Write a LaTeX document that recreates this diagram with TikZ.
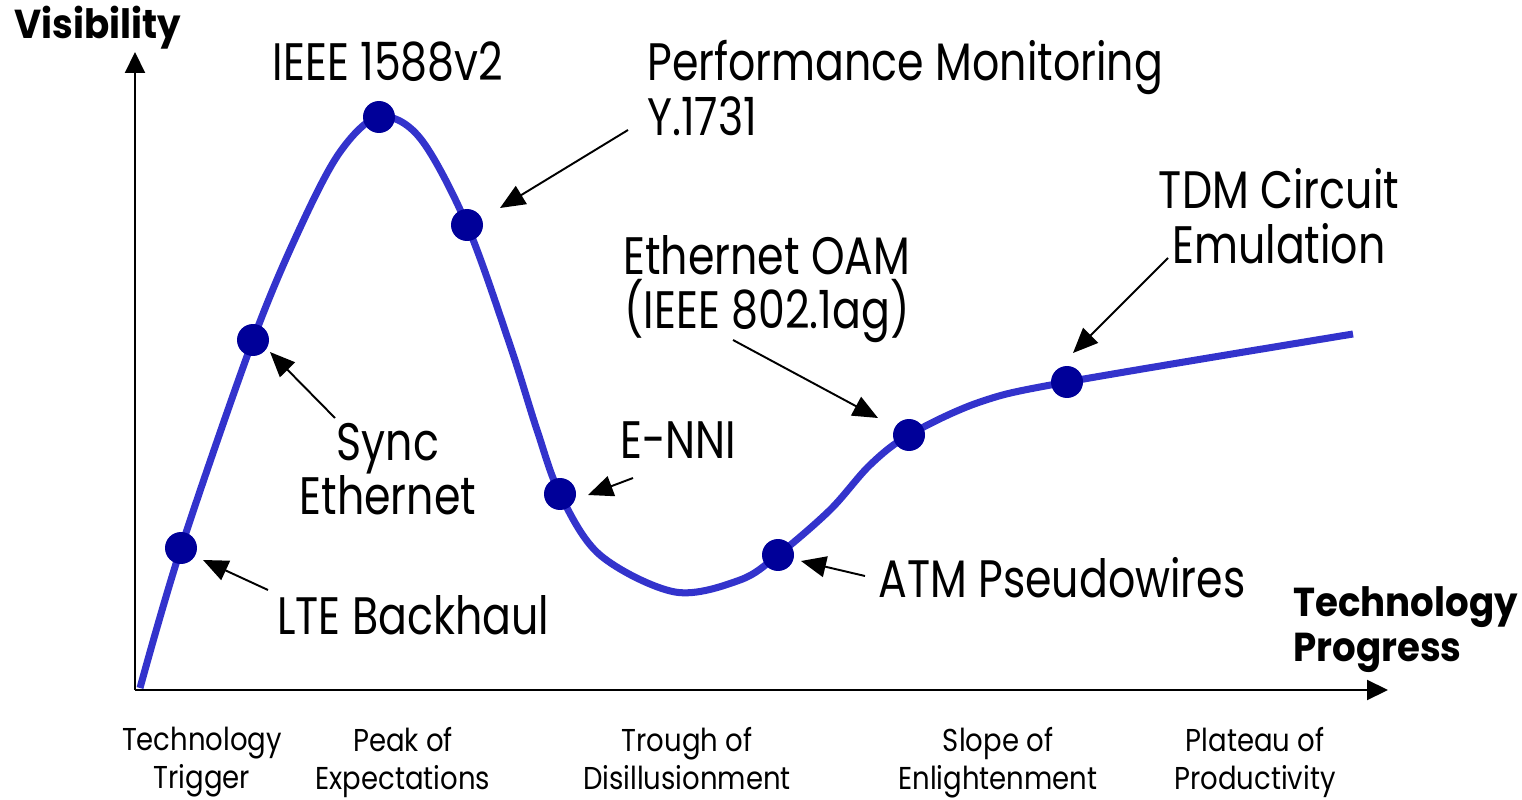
\documentclass[tikz,border=0pt]{standalone}
\usepackage{fontspec}
\setmainfont{Poppins}[FakeStretch=0.87]
\newfontfamily\lblfont{Poppins}[FakeStretch=0.81]
\newfontfamily\boldfont{Poppins}[FakeStretch=0.92]
\usetikzlibrary{arrows.meta}
\definecolor{curveblue}{HTML}{3333CC}
\definecolor{dotblue}{HTML}{000099}
\tikzset{
  axis/.style={line width=1.2pt,-{Triangle[length=0.42cm,width=0.4cm]}},
  pointer/.style={line width=1.1pt,-{Triangle[length=0.5cm,width=0.42cm]}},
  hype/.style={line width=4pt,curveblue},
  dot/.style={circle,fill=dotblue,inner sep=0pt,minimum size=0.64cm},
  lbl/.style={inner sep=0pt,font=\lblfont\fontsize{30}{31}\selectfont},
  phase/.style={inner sep=0pt,align=center,anchor=north,font=\fontsize{18}{21.5}\selectfont},
  bold/.style={inner sep=0pt,font=\boldfont\fontsize{23}{25.5}\selectfont\bfseries},
}
\begin{document}
\begin{tikzpicture}[x=0.02cm,y=-0.02cm]
\useasboundingbox (0,0) rectangle (1522,800);
% axes
\coordinate (origin) at (135,690);
\coordinate (ytop) at (135,52);
\coordinate (xend) at (1388,690);
\draw[axis] (origin) -- (ytop);
\draw[axis] (origin) -- (xend);
\node[bold,anchor=west] (vis) at (14,28) {Visibility};
\node[bold,anchor=west,align=left] (tp) at (1293,630) {Technology\\Progress};
% curve
\draw[hype] plot[smooth,tension=0.55] coordinates {
 (140,688) (181,548) (253,340) (300,228) (340,152) (379,117) (420,138)
 (467,225) (510,345) (537,430) (560,494) (600,555) (675,592) (740,580)
 (778,555) (830,510) (870,465) (909,435) (980,402) (1067,382) (1353,334)};
% dots
\node[dot] (lte) at (181,548) {};
\node[dot] (sync) at (253,340) {};
\node[dot] (ieee) at (379,117) {};
\node[dot] (pm) at (467,225) {};
\node[dot] (enni) at (560,494) {};
\node[dot] (atm) at (778,555) {};
\node[dot] (oam) at (909,435) {};
\node[dot] (tdm) at (1067,382) {};
% labels
\node[lbl] (ieeeL) at (388,62) {IEEE 1588v2};
\node[lbl,anchor=west,align=left] (pmL) at (647,88) {Performance Monitoring\\Y.1731};
\node[lbl,align=center] (tdmL) at (1279,216) {TDM Circuit\\Emulation};
\node[lbl,align=center] (oamL) at (767,289) {Ethernet OAM\\(IEEE 802.1ag)};
\node[lbl,align=center] (syncL) at (388,469) {Sync\\Ethernet};
\node[lbl,anchor=west] (enniL) at (620,440) {E-NNI};
\node[lbl,anchor=west] (lteL) at (277,615) {LTE Backhaul};
\node[lbl,anchor=west] (atmL) at (878,578) {ATM Pseudowires};
% pointers
\coordinate (lteT) at (268,590); \coordinate (lteH) at (203,560);
\coordinate (syncT) at (335,418); \coordinate (syncH) at (270,352);
\coordinate (pmT) at (628,130); \coordinate (pmH) at (500,208);
\coordinate (enniT) at (633,478); \coordinate (enniH) at (588,495);
\coordinate (oamT) at (733,340); \coordinate (oamH) at (878,418);
\coordinate (atmT) at (865,576); \coordinate (atmH) at (801,561);
\coordinate (tdmT) at (1168,258); \coordinate (tdmH) at (1073,353);
\draw[pointer] (lteT) -- (lteH);
\draw[pointer] (syncT) -- (syncH);
\draw[pointer] (pmT) -- (pmH);
\draw[pointer] (enniT) -- (enniH);
\draw[pointer] (oamT) -- (oamH);
\draw[pointer] (atmT) -- (atmH);
\draw[pointer] (tdmT) -- (tdmH);
% phases
\node[phase] (p1) at (202,727) {Technology\\Trigger};
\node[phase] (p2) at (403,727) {Peak of\\Expectations};
\node[phase] (p3) at (687,727) {Trough of\\Disillusionment};
\node[phase] (p4) at (998,727) {Slope of\\Enlightenment};
\node[phase] (p5) at (1255,727) {Plateau of\\Productivity};
\end{tikzpicture}
\end{document}
